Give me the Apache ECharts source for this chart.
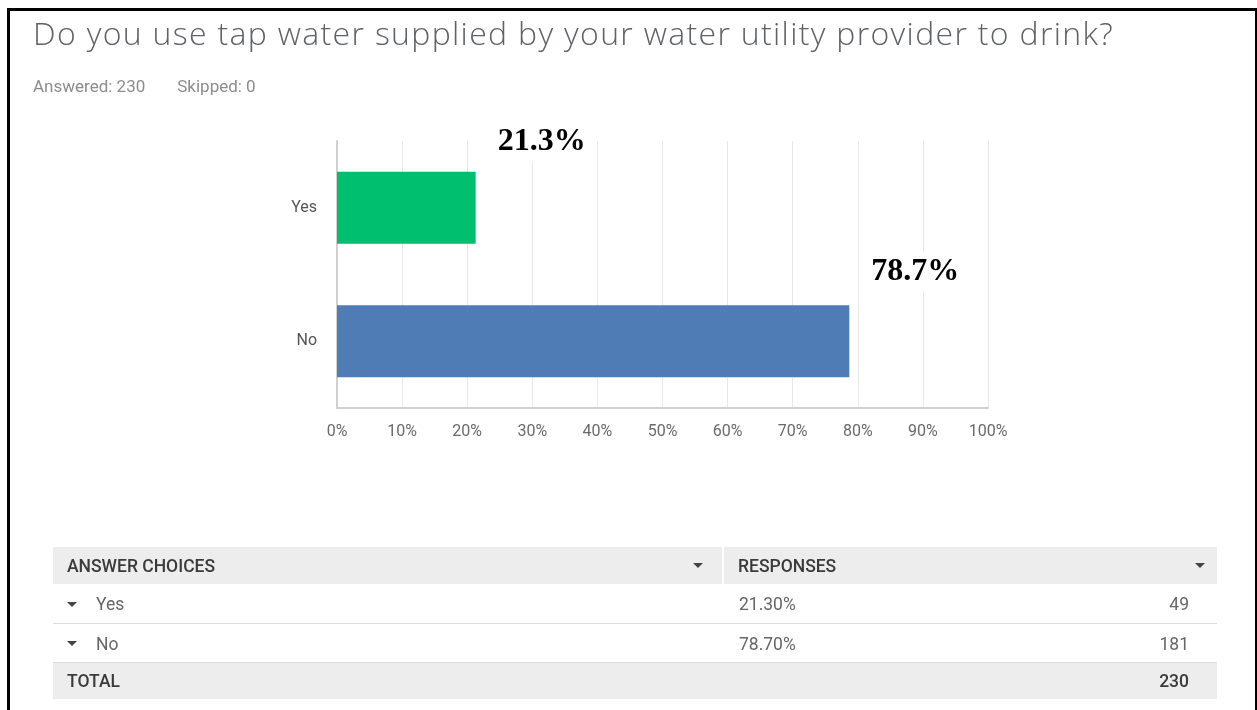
<!DOCTYPE html>
<html>
<head>
<meta charset="utf-8">
<script src="https://cdn.jsdelivr.net/npm/echarts@6/dist/echarts.min.js"></script>
<style>
  html, body { margin: 0; padding: 0; background: #fff; }
  body { width: 1257px; height: 710px; position: relative; overflow: hidden; font-family: Roboto, "Open Sans", sans-serif; }
  #frame { position: absolute; left: 7px; top: 8px; width: 1245px; height: 720px; border-left: 3px solid #000; border-top: 3px solid #000; border-right: 2px solid #000; box-sizing: content-box; }
  #chart { position: absolute; left: 0; top: 0; width: 1257px; height: 710px; }
  #title { position: absolute; left: 33px; top: 11px; font-family: "Open Sans", sans-serif; font-weight: 300; font-size: 32px; color: #5e6266; white-space: nowrap; letter-spacing: 1.32px; }
  #meta { position: absolute; left: 33px; top: 76px; font-size: 17px; color: #8c8c8c; white-space: nowrap; }
  #meta span { margin-right: 32px; }
  #tbl { position: absolute; left: 53px; top: 547px; width: 1164px; border-collapse: collapse; table-layout: fixed; font-size: 17.5px; color: #666; }
  #tbl td { padding: 0; vertical-align: middle; white-space: nowrap; box-sizing: border-box; }
  #tbl tr.hd td, #tbl tr.tot td { background: #ededed; color: #3a3a3a; font-weight: 500; height: 37px; }
  #tbl tr.row td { height: 39px; border-bottom: 1px solid #dcdcdc; padding-top: 2px; }
  #tbl tr.row:last-of-type td { border-bottom: none; height: 39px; }
  .c1 { padding-left: 14px !important; }
  .caret { display: inline-block; width: 0; height: 0; border-left: 5px solid transparent; border-right: 5px solid transparent; border-top: 5px solid #444; vertical-align: middle; position: relative; top: -1px; }
  .rc { margin-left: 0px; margin-right: 19px; }
  .sep { border-left: 2px solid #fff; padding-left: 14px !important; }
  .c3 { padding-left: 16px !important; }
  .num { text-align: right; padding-right: 28px !important; }
  .hcar { text-align: right; padding-right: 12px !important; }
</style>
</head>
<body>
<div id="chart"></div>
<div id="title"></div>
<div id="meta"></div>
<table id="tbl"></table>
<div id="frame"></div>
<script>
const titleText = "Do you use tap water supplied by your water utility provider to drink?";
const answered = 230;
const skipped = 0;
const categories = ["Yes", "No"];
const percents = [21.3, 78.7];
const counts = [49, 181];
const total = 230;
const barColors = ["#00bf6f", "#507cb6"];

document.getElementById('title').textContent = titleText;
document.getElementById('meta').innerHTML = '<span>Answered: ' + answered + '</span><span>Skipped: ' + skipped + '</span>';

// table
let html = '<colgroup><col style="width:640px"><col style="width:30px"><col style="width:360px"><col style="width:134px"></colgroup>';
html += '<tr class="hd"><td class="c1">ANSWER CHOICES</td><td><span class="caret"></span></td>' +
  '<td class="sep">RESPONSES</td><td class="hcar"><span class="caret"></span></td></tr>';
categories.forEach((c, i) => {
  html += '<tr class="row"><td class="c1"><span class="caret rc"></span>' + c + '</td><td></td>' +
    '<td class="c3">' + percents[i].toFixed(2) + '%</td><td class="num">' + counts[i] + '</td></tr>';
});
html += '<tr class="tot"><td class="c1">TOTAL</td><td></td><td></td><td class="num">' + total + '</td></tr>';
document.getElementById('tbl').innerHTML = html;

const labelOffsets = [[11, -66], [11, -70]];

const chart = echarts.init(document.getElementById('chart'), null, { renderer: 'canvas' });
chart.setOption({
  animation: false,
  grid: { left: 337, right: 269, top: 141, bottom: 302, containLabel: false },
  xAxis: {
    type: 'value', min: 0, max: 100, interval: 10,
    axisLine: { show: true, lineStyle: { color: '#d0d0d0', width: 2 } },
    axisTick: { show: false },
    splitLine: { show: true, lineStyle: { color: '#e8e8e8', width: 1 } },
    axisLabel: { formatter: '{value}%', color: '#6a6a6a', fontSize: 16, margin: 16, fontFamily: 'Roboto' }
  },
  yAxis: {
    type: 'category', data: categories, inverse: true,
    axisLine: { show: true, lineStyle: { color: '#d0d0d0', width: 2 } },
    axisTick: { show: false },
    axisLabel: { color: '#555', fontSize: 16, margin: 20, fontFamily: 'Roboto' }
  },
  series: [{
    type: 'bar',
    barWidth: 72,
    data: percents.map((v, i) => ({
      value: v,
      itemStyle: { color: barColors[i] },
      label: {
        show: true, position: 'right', offset: labelOffsets[i],
        formatter: p => p.value.toFixed(1) + '%',
        fontFamily: '"Liberation Serif", "Times New Roman", serif',
        fontWeight: 'bold', fontSize: 32, color: '#000',
        backgroundColor: '#fff', padding: [4, 6]
      }
    }))
  }]
});
</script>
</body>
</html>
